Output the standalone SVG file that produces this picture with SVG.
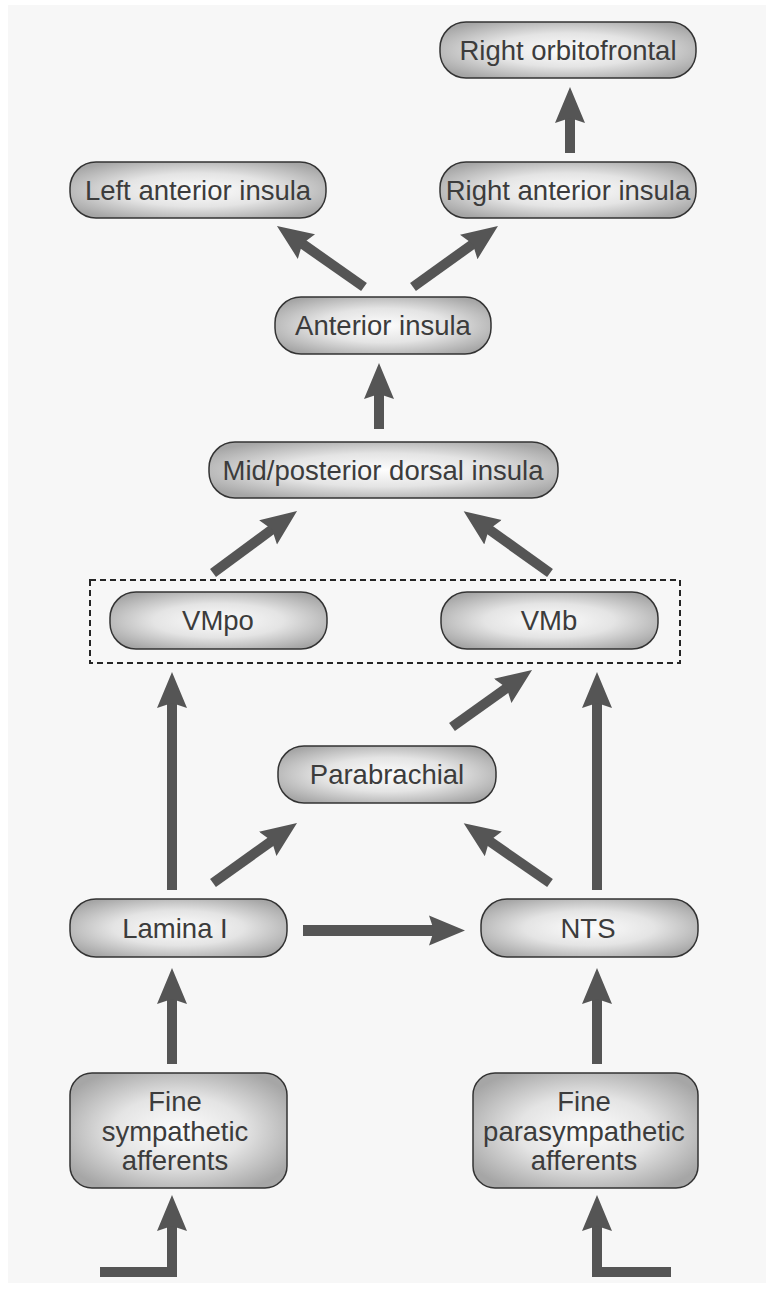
<svg xmlns="http://www.w3.org/2000/svg" width="766" height="1290" viewBox="0 0 766 1290">
<defs>
<radialGradient id="g" cx="50%" cy="50%" r="60%">
<stop offset="0" stop-color="#fdfdfd"/>
<stop offset="0.5" stop-color="#e4e4e4"/>
<stop offset="1" stop-color="#a6a6a6"/>
</radialGradient>
<marker id="ah" markerUnits="userSpaceOnUse" viewBox="0 -16 37 32" markerWidth="37" markerHeight="32" refX="6" refY="0" orient="auto">
<path d="M0,-15 L36,0 L0,15 L5,0 Z" fill="#555"/>
</marker>
<style>
.box{fill:url(#g);stroke:#333;stroke-width:1.5}
.t{font-family:"Liberation Sans",Arial,sans-serif;font-size:27.5px;fill:#3c3c3c;text-anchor:middle}
.c{fill:none;stroke:#555;stroke-width:10;stroke-linejoin:miter;marker-end:url(#ah)}
</style>
</defs>
<rect x="0" y="0" width="766" height="1290" fill="#ffffff"/>
<rect x="8" y="5" width="758" height="1278" fill="#f7f7f7"/>

<g id="connectors">
<line class="c" x1="570" y1="153" x2="570" y2="117"/>
<line class="c" x1="364" y1="287" x2="301.5" y2="243.2"/>
<line class="c" x1="413" y1="287" x2="473.6" y2="243.5"/>
<line class="c" x1="379" y1="429" x2="379" y2="393"/>
<line class="c" x1="213" y1="573" x2="272.9" y2="528.8"/>
<line class="c" x1="550" y1="573" x2="488.1" y2="528.8"/>
<line class="c" x1="172" y1="890" x2="172" y2="702"/>
<line class="c" x1="597" y1="890" x2="597" y2="702"/>
<line class="c" x1="452" y1="727" x2="507.6" y2="687.4"/>
<line class="c" x1="213" y1="883" x2="272.6" y2="840.4"/>
<line class="c" x1="550" y1="883" x2="488.4" y2="840.4"/>
<line class="c" x1="303" y1="930.5" x2="435" y2="930.5" style="stroke-width:11"/>
<line class="c" x1="172" y1="1064" x2="172" y2="998"/>
<line class="c" x1="597" y1="1064" x2="597" y2="998"/>
<path class="c" d="M100,1272 H172 V1225"/>
<path class="c" d="M671,1272 H597 V1225"/>
</g>

<g id="group-vm">
<rect x="90" y="580" width="590" height="83" fill="none" stroke="#262626" stroke-width="2" stroke-dasharray="6,4"/>
</g>

<g id="right-orbitofrontal">
<rect class="box" x="440" y="22" width="256" height="56" rx="26"/>
<text class="t" x="568" y="60">Right orbitofrontal</text>
</g>
<g id="left-anterior-insula">
<rect class="box" x="70" y="162" width="256" height="56" rx="26"/>
<text class="t" x="198" y="200">Left anterior insula</text>
</g>
<g id="right-anterior-insula">
<rect class="box" x="440" y="162" width="256" height="56" rx="26"/>
<text class="t" x="568" y="200">Right anterior insula</text>
</g>
<g id="anterior-insula">
<rect class="box" x="275" y="297" width="216" height="57" rx="26"/>
<text class="t" x="383" y="335">Anterior insula</text>
</g>
<g id="mid-posterior-dorsal-insula">
<rect class="box" x="209" y="442" width="349" height="56" rx="26"/>
<text class="t" x="383" y="480">Mid/posterior dorsal insula</text>
</g>
<g id="vmpo">
<rect class="box" x="110" y="592" width="217" height="57" rx="26"/>
<text class="t" x="218" y="630">VMpo</text>
</g>
<g id="vmb">
<rect class="box" x="441" y="592" width="217" height="57" rx="26"/>
<text class="t" x="549" y="630">VMb</text>
</g>
<g id="parabrachial">
<rect class="box" x="278" y="746" width="218" height="57" rx="26"/>
<text class="t" x="387" y="784">Parabrachial</text>
</g>
<g id="lamina-i">
<rect class="box" x="70" y="899" width="217" height="58" rx="26"/>
<text class="t" x="175" y="938">Lamina I</text>
</g>
<g id="nts">
<rect class="box" x="481" y="899" width="217" height="58" rx="26"/>
<text class="t" x="588" y="938">NTS</text>
</g>
<g id="fine-sympathetic-afferents">
<rect class="box" x="70" y="1073" width="217" height="115" rx="22"/>
<text class="t" x="175" y="1110.5">Fine</text>
<text class="t" x="175" y="1140.5">sympathetic</text>
<text class="t" x="175" y="1169.5">afferents</text>
</g>
<g id="fine-parasympathetic-afferents">
<rect class="box" x="473" y="1073" width="225" height="115" rx="22"/>
<text class="t" x="584" y="1110.5">Fine</text>
<text class="t" x="584" y="1140.5">parasympathetic</text>
<text class="t" x="584" y="1169.5">afferents</text>
</g>
</svg>
